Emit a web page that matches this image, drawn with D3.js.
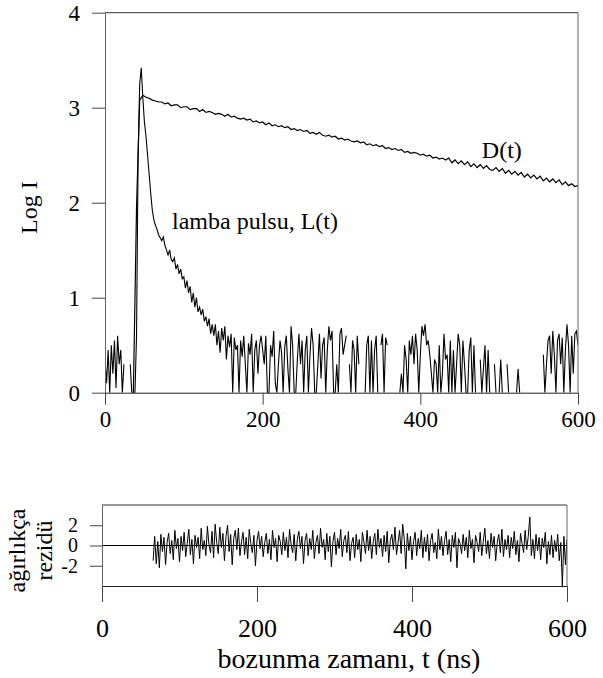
<!DOCTYPE html>
<html>
<head>
<meta charset="utf-8">
<script src="https://cdn.jsdelivr.net/npm/d3@7"></script>
<style>
  body { margin: 0; background: #fff; }
  svg text { font-family: "Liberation Serif", "Times New Roman", serif; fill: #000; }
</style>
</head>
<body>
<div id="chart"></div>
<script>
// Graduations
const xTicks = [0, 200, 400, 600];
const yTicksTop = [0, 1, 2, 3, 4];
const yTicksRes = [-2, 0, 2];

// Déclin D(t) : t = 36, 40, ... 600 ns
const decayStart = 36;
const decayStep = 4;
const decayValues = [
  0, 1.95, 3.08, 3.13, 3.11, 3.10, 3.08, 3.07, 3.06,
  3.06, 3.04, 3.05, 3.02, 3.03, 3.03, 3.00, 3.01, 3.01, 2.98,
  2.99, 2.99, 2.96, 2.98, 2.95, 2.96, 2.95, 2.93, 2.94, 2.93,
  2.91, 2.93, 2.90, 2.91, 2.89, 2.88, 2.89, 2.87, 2.88, 2.85,
  2.86, 2.84, 2.85, 2.82, 2.84, 2.81, 2.82, 2.80, 2.81, 2.79,
  2.80, 2.77, 2.78, 2.76, 2.77, 2.75, 2.76, 2.73, 2.74, 2.72,
  2.74, 2.71, 2.70, 2.71, 2.69, 2.70, 2.67, 2.68, 2.66, 2.67,
  2.65, 2.64, 2.65, 2.63, 2.64, 2.61, 2.62, 2.60, 2.61, 2.59,
  2.60, 2.57, 2.58, 2.56, 2.57, 2.55, 2.56, 2.53, 2.54, 2.52,
  2.53, 2.52, 2.50, 2.51, 2.49, 2.50, 2.47, 2.48, 2.46, 2.47,
  2.45, 2.47, 2.42, 2.45, 2.41, 2.44, 2.40, 2.43, 2.38, 2.41,
  2.37, 2.40, 2.36, 2.39, 2.35, 2.34, 2.37, 2.33, 2.36, 2.31,
  2.34, 2.30, 2.33, 2.29, 2.32, 2.27, 2.30, 2.26, 2.29, 2.25,
  2.28, 2.23, 2.26, 2.22, 2.25, 2.21, 2.24, 2.19, 2.22, 2.18,
  2.20, 2.17, 2.18
];

// Pulse de lampe L(t) : t = 0, 2, ... 600 ns (null = pas de comptage)
const lampStart = 0;
const lampStep = 2;
const lampValues = [
  0.35, 0.1, 0.45, 0.0, 0.5, 0.2, 0.55, 0.05, 0.6, 0.3,
  0.45, 0.0, 0.3, null, null, null, 0.3, 0.0, 0.0, 0.0,
  0.6, 2.5, 3.25, 3.42, 3.1, 2.85, 2.7, 2.5, 2.3, 2.1,
  1.92, 1.82, 1.76, 1.72, 1.66, 1.63, 1.6, 1.64, 1.55, 1.5,
  1.45, 1.5, 1.4, 1.38, 1.42, 1.3, 1.35, 1.25, 1.3, 1.2,
  1.22, 1.1, 1.18, 1.05, 1.12, 0.95, 1.05, 0.9, 1.0, 0.85,
  0.9, 0.82, 0.88, 0.75, 0.8, 0.7, 0.78, 0.62, 0.72, 0.6,
  0.72, 0.5, 0.65, 0.42, 0.68, 0.55, 0.7, 0.35, 0.6, 0.48,
  0.62, 0.0, 0.58, 0.45, 0.5, 0.0, 0.55, 0.38, 0.6, 0.3,
  0.0, 0.52, 0.4, 0.62, 0.0, 0.45, 0.55, 0.2, 0.5, 0.6,
  0.45, 0.3, 0.6, 0.0, 0.0, 0.5, 0.38, 0.65, 0.1, 0.0,
  0.3, 0.55, 0.42, 0.0, 0.48, 0.6, 0.25, 0.0, 0.7, 0.5,
  0.0, 0.0, 0.35, 0.62, 0.3, 0.55, 0.0, 0.45, 0.6, 0.0,
  0.4, 0.68, 0.5, 0.0, 0.0, 0.3, 0.62, 0.15, 0.5, 0.58,
  0.0, 0.45, 0.7, 0.55, 0.65, 0.0, 0.0, 0.3, 0.0, 0.62,
  0.68, 0.4, 0.5, 0.6, null, 0.3, 0.0, 0.55, 0.45, 0.0,
  0.6, 0.3, null, null, null, 0.0, 0.5, 0.6, 0.0, 0.55,
  0.0, 0.45, 0.6, 0.0, null, 0.5, 0.62, 0.0, 0.58, 0.5,
  null, null, null, null, null, null, null, 0.0, 0.2, 0.0,
  0.5, 0.35, 0.0, 0.55, 0.4, 0.6, 0.3, 0.62, 0.45, 0.0,
  0.4, 0.7, 0.6, 0.72, 0.5, 0.55, 0.4, 0.2, 0.0, 0.35,
  0.3, 0.0, 0.5, 0.0, 0.2, 0.62, 0.35, 0.4, 0.0, 0.55,
  0.0, 0.45, 0.0, 0.3, 0.62, 0.5, 0.0, 0.55, 0.3, 0.0,
  0.0, 0.45, 0.58, 0.0, 0.5, 0.0, null, null, 0.35, 0.0,
  0.25, 0.5, 0.0, 0.45, 0.0, null, null, 0.3, 0.0, null,
  0.0, 0.35, 0.0, null, null, 0.3, 0.0, null, null, null,
  null, 0.0, 0.25, 0.0, null, null, null, null, null, null,
  null, null, null, null, null, null, null, null, 0.4, 0.0,
  0.3, 0.55, 0.6, 0.2, 0.65, 0.4, 0.0, 0.55, 0.62, 0.3,
  0.58, 0.0, 0.45, 0.72, 0.5, 0.0, 0.6, 0.2, 0.62, 0.65,
  0.5
];

// Résidus pondérés : t = 66, 68, ... 600 ns
const residStart = 66;
const residStep = 2;
const residValues = [
  -1.5, 0.9, -1.8, 0.4, -2.2, 1.1, -0.6, 0.8, -1.9, 0.3,
  1.2, -0.8, 0.5, -1.4, 1.5, -0.3, 0.7, -1.6, 0.9, -0.5,
  1.3, -1.1, 0.2, 1.6, -0.9, 0.6, -1.8, 1.0, -0.2, 0.8,
  -1.3, 1.7, -0.4, 0.5, -1.0, 1.9, 0.1, -0.7, 1.4, -1.2,
  2.1, 0.3, -0.8, 1.8, -0.2, 1.2, -1.5, 0.9, 2.0, -0.6,
  1.1, -1.9, 0.7, 1.5, -0.4, 1.7, -1.0, 0.4, 1.3, -0.9,
  0.8, -1.3, 1.6, 0.2, -0.7, 1.0, -2.0, 0.5, 1.4, -0.3,
  0.9, -1.1, 0.3, 1.2, -0.8, 0.6, -1.4, 1.5, -0.2, 0.7,
  -1.6, 1.0, 0.4, -0.9, 1.3, -0.5, 0.8, -1.2, 1.6, 0.1,
  -0.7, 1.1, -1.5, 0.6, 1.4, -0.3, 0.9, -1.8, 0.5, 1.2,
  -1.0, 0.7, -0.4, 1.5, -1.3, 0.3, 1.0, -0.8, 1.7, -0.2,
  0.6, -1.4, 1.2, -0.6, 0.9, -2.1, 0.4, 1.3, -0.9, 0.7,
  -0.3, 1.6, -1.1, 0.5, 1.0, -0.7, 1.4, -1.5, 0.2, 0.8,
  -1.2, 1.1, -0.4, 0.6, -1.6, 1.3, 0.3, -0.8, 1.5, -0.5,
  0.9, -1.3, 0.4, 1.2, -0.9, 1.6, -0.2, 0.7, -1.1, 1.0,
  -0.6, 1.4, -1.7, 0.5, 1.1, -0.4, 1.8, -0.9, 0.3, 1.5,
  -0.8, 2.1, 0.6, -2.3, 1.2, -0.5, 0.9, -1.4, 0.4, 1.3,
  -1.0, 0.7, -0.3, 1.5, -1.2, 0.8, -0.6, 1.1, -1.5, 0.5,
  1.2, -0.7, 0.3, -1.3, 1.6, -0.4, 0.9, -1.0, 0.5, 1.4,
  -0.9, 0.6, -1.6, 1.0, -0.2, 1.3, -2.2, 0.7, 0.2, -0.8,
  1.1, -0.5, 0.8, -1.2, 1.5, -0.3, 0.6, -1.7, 1.0, 0.3,
  -0.6, 1.3, -1.0, 0.4, 1.7, -0.8, 0.5, -1.3, 1.2, -0.2,
  0.9, -1.5, 0.3, 1.1, -0.7, 1.6, -1.1, 0.6, -0.4, 1.0,
  -1.2, 0.8, -0.3, 1.4, -0.9, 0.5, -1.6, 1.2, 0.2, -0.7,
  1.5, -0.4, 0.9, 2.8, -1.0, 0.6, -1.3, 1.1, -0.5, 0.8,
  -1.4, 0.7, -0.2, 1.3, -1.8, 0.4, -0.9, 1.0, -1.2, 0.5,
  -0.6, 1.1, -1.5, 0.3, -4.0, 0.9, -1.9, 0.6
];

// Textes
const yLabelTop = "Log I";
const yLabelRes = ["ağırlıkça", "rezidü"];
const xLabel = "bozunma zamanı, t (ns)";
const decayLabel = "D(t)";
const lampLabel = "lamba pulsu, L(t)";

function toPoints(values, start, step) {
  return values.map((v, i) => ({ t: start + i * step, v: v }));
}

function styleAxis(g, fontSize) {
  g.attr("font-family", null).attr("font-size", fontSize);
  g.selectAll(".domain").attr("stroke", "#666");
  g.selectAll(".tick line").attr("stroke", "#444");
  g.selectAll(".tick text").attr("fill", "#000");
}

function drawChart() {
  const width = 603, height = 678;
  const plainFormat = d => String(d);

  const svg = d3.select("#chart")
    .append("svg")
    .attr("width", width)
    .attr("height", height);

  // ---- Panneau du haut ----
  const xTop = d3.scaleLinear().domain([0, 600]).range([105, 578]);
  const yTop = d3.scaleLinear().domain([0, 4]).range([392.7, 12.7]);

  svg.append("clipPath").attr("id", "clip-top")
    .append("rect")
    .attr("x", xTop(0)).attr("y", yTop(4))
    .attr("width", xTop(600) - xTop(0)).attr("height", yTop(0) - yTop(4));

  const lineTop = d3.line()
    .defined(d => d.v !== null)
    .x(d => xTop(d.t))
    .y(d => yTop(d.v));

  svg.append("path")
    .datum(toPoints(lampValues, lampStart, lampStep))
    .attr("clip-path", "url(#clip-top)")
    .attr("fill", "none")
    .attr("stroke", "#000")
    .attr("stroke-width", 1.1)
    .attr("d", lineTop);

  svg.append("path")
    .datum(toPoints(decayValues, decayStart, decayStep))
    .attr("clip-path", "url(#clip-top)")
    .attr("fill", "none")
    .attr("stroke", "#000")
    .attr("stroke-width", 1.2)
    .attr("d", lineTop);

  // Axes
  const gyTop = svg.append("g")
    .attr("transform", `translate(${xTop(0)},0)`)
    .call(d3.axisLeft(yTop).tickValues(yTicksTop).tickFormat(plainFormat)
      .tickSize(13).tickSizeOuter(0).tickPadding(12));
  styleAxis(gyTop, 23);

  const gxTop = svg.append("g")
    .attr("transform", `translate(0,${yTop(0)})`)
    .call(d3.axisBottom(xTop).tickValues(xTicks).tickFormat(plainFormat)
      .tickSize(12).tickSizeOuter(0).tickPadding(6));
  styleAxis(gxTop, 23);
  gxTop.select(".domain").attr("stroke", "#222");

  // Cadre
  svg.append("line")
    .attr("x1", xTop(0)).attr("x2", xTop(600))
    .attr("y1", yTop(4)).attr("y2", yTop(4))
    .attr("stroke", "#333");
  svg.append("line")
    .attr("x1", xTop(600)).attr("x2", xTop(600))
    .attr("y1", yTop(4)).attr("y2", yTop(0))
    .attr("stroke", "#666");

  svg.append("text")
    .attr("transform", `translate(37,${(yTop(0) + yTop(4)) / 2 + 5}) rotate(-90)`)
    .attr("text-anchor", "middle")
    .attr("font-size", 24)
    .text(yLabelTop);

  svg.append("text")
    .attr("x", xTop(478)).attr("y", yTop(2.47))
    .attr("font-size", 24)
    .text(decayLabel);

  svg.append("text")
    .attr("x", xTop(85)).attr("y", yTop(1.72))
    .attr("font-size", 24)
    .text(lampLabel);

  // ---- Panneau des résidus ----
  const xRes = d3.scaleLinear().domain([0, 600]).range([102, 567]);
  const yRes = d3.scaleLinear().domain([-4, 4]).range([586, 505]);

  svg.append("clipPath").attr("id", "clip-res")
    .append("rect")
    .attr("x", xRes(0)).attr("y", yRes(4))
    .attr("width", xRes(600) - xRes(0)).attr("height", yRes(-4) - yRes(4));

  // ligne zéro
  svg.append("line")
    .attr("x1", xRes(0)).attr("x2", xRes(600))
    .attr("y1", yRes(0)).attr("y2", yRes(0))
    .attr("stroke", "#000");

  const lineRes = d3.line()
    .x(d => xRes(d.t))
    .y(d => yRes(d.v));

  svg.append("path")
    .datum(toPoints(residValues, residStart, residStep))
    .attr("clip-path", "url(#clip-res)")
    .attr("fill", "none")
    .attr("stroke", "#000")
    .attr("stroke-width", 1)
    .attr("d", lineRes);

  const gyRes = svg.append("g")
    .attr("transform", `translate(${xRes(0)},0)`)
    .call(d3.axisLeft(yRes).tickValues(yTicksRes).tickFormat(plainFormat)
      .tickSize(12).tickSizeOuter(0).tickPadding(12));
  styleAxis(gyRes, 20);

  const gxRes = svg.append("g")
    .attr("transform", `translate(0,${yRes(-4)})`)
    .call(d3.axisBottom(xRes).tickValues(xTicks).tickFormat(plainFormat)
      .tickSize(16).tickSizeOuter(0).tickPadding(17));
  styleAxis(gxRes, 26);
  gxRes.select(".domain").attr("stroke", "#222");

  svg.append("line")
    .attr("x1", xRes(0)).attr("x2", xRes(600))
    .attr("y1", yRes(4)).attr("y2", yRes(4))
    .attr("stroke", "#333");
  svg.append("line")
    .attr("x1", xRes(600)).attr("x2", xRes(600))
    .attr("y1", yRes(4)).attr("y2", yRes(-4))
    .attr("stroke", "#666");

  const resLabel = svg.append("text")
    .attr("transform", `translate(25,${yRes(0) + 5}) rotate(-90)`)
    .attr("text-anchor", "middle")
    .attr("font-size", 24);
  resLabel.append("tspan").attr("x", 0).attr("dy", 0).text(yLabelRes[0]);
  resLabel.append("tspan").attr("x", 0).attr("dy", 27).text(yLabelRes[1]);

  svg.append("text")
    .attr("x", 349).attr("y", 668)
    .attr("text-anchor", "middle")
    .attr("font-size", 28)
    .text(xLabel);
}

drawChart();
</script>
</body>
</html>
